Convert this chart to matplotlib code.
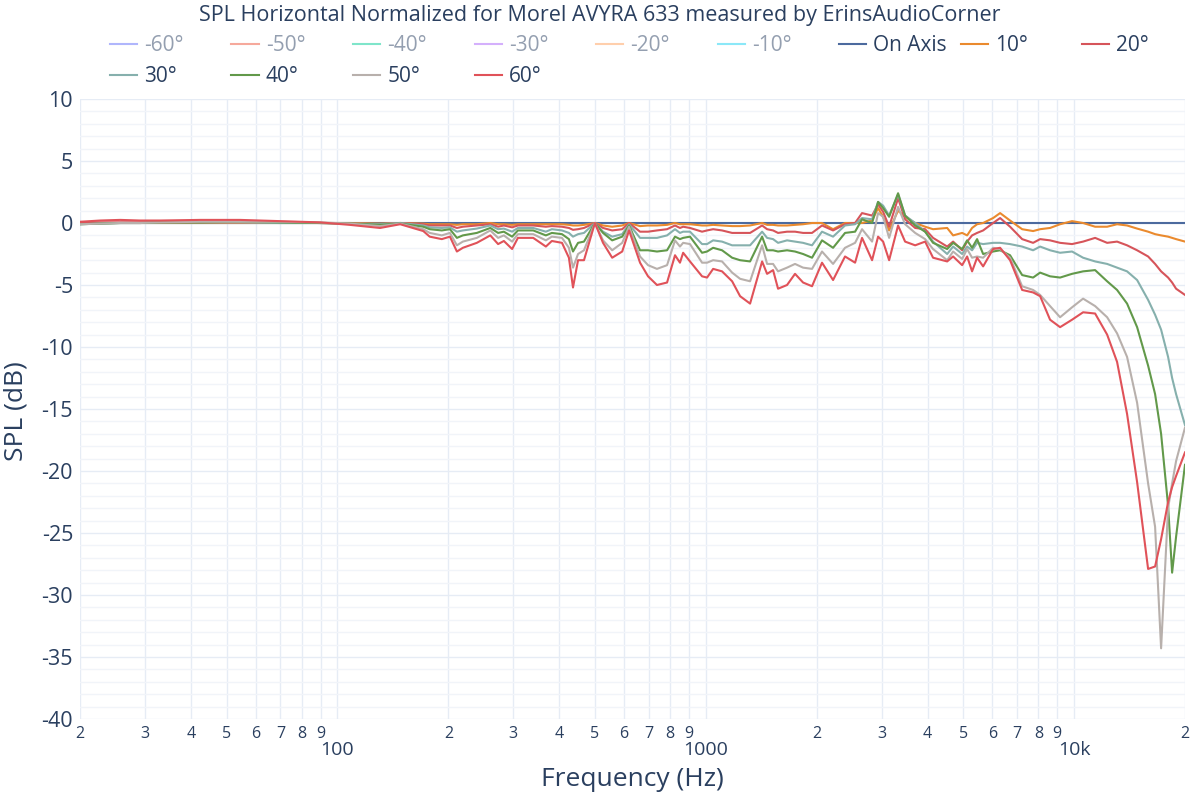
import matplotlib
matplotlib.use("Agg")
import matplotlib.pyplot as plt
from matplotlib.lines import Line2D
from matplotlib.ticker import FixedLocator, MultipleLocator

plt.rcParams['font.family'] = ['Open Sans', 'DejaVu Sans']
plt.rcParams['axes.unicode_minus'] = False

TITLE = "SPL Horizontal Normalized for Morel AVYRA 633 measured by ErinsAudioCorner"

FREQ = [20, 22.7, 25.7, 29.1, 33.0, 42.4, 54.4, 69.8, 89.7, 108,
        130.5, 148, 171, 178, 192, 202, 211, 219, 239, 260,
        273, 283, 298, 309, 340, 368, 382, 407, 425, 436,
        450, 467, 500, 526, 557, 593, 619, 663, 697, 737,
        785, 825, 851, 868, 906, 977, 1008, 1047, 1107, 1179,
        1239, 1319, 1422, 1467, 1523, 1571, 1662, 1747, 1837, 1943,
        2068, 2216, 2388, 2543, 2656, 2828, 2936, 3030, 3146, 3327,
        3476, 3702, 3940, 4140, 4522, 4693, 4966, 5123, 5284, 5452,
        5662, 6026, 6296, 6700, 7226, 7738, 8085, 8604, 9160, 9871,
        10577, 11403, 12292, 13080, 13924, 14826, 15880, 16590, 17224, 17994,
        18452, 18916, 20000]

ON_AXIS = [0.0] * 103

DEG10 = [0, 0, 0, 0, 0, 0, 0, 0, 0, 0,
         -0.05, 0.0, -0.05, -0.1, -0.1, -0.1, -0.15, -0.1, -0.1, 0.0,
         -0.1, -0.1, -0.15, -0.1, -0.1, -0.1, -0.1, -0.1, -0.15, -0.2,
         -0.2, -0.15, 0.0, -0.2, -0.3, -0.2, 0.0, -0.25, -0.2, -0.2,
         -0.15, 0.0, -0.1, -0.1, -0.1, -0.2, -0.2, -0.15, -0.2, -0.25,
         -0.25, -0.2, 0.0, -0.15, -0.15, -0.2, -0.2, -0.15, -0.1, 0.0,
         0.0, -0.5, 0.0, 0.0, 0.0, 0.2, 1.2, 0.5, -0.6, 1.0,
         0.5, 0.0, -0.3, -0.5, -0.4, -1.0, -0.8, -1.0, -0.4, -0.1,
         0.0, 0.4, 0.8, 0.2, -0.5, -0.65, -0.5, -0.4, -0.1, 0.15,
         0.0, -0.3, -0.3, -0.1, -0.2, -0.45, -0.7, -0.9, -1.0, -1.1,
         -1.2, -1.3, -1.5]

DEG20 = [0.05, 0.05, 0.05, 0.05, 0.05, 0.05, 0.05, 0.05, 0.0, -0.05,
         -0.1, 0.0, -0.1, -0.2, -0.2, -0.2, -0.4, -0.3, -0.2, -0.1,
         -0.3, -0.2, -0.35, -0.2, -0.2, -0.3, -0.25, -0.3, -0.4, -0.55,
         -0.5, -0.4, 0.0, -0.4, -0.6, -0.5, 0.0, -0.7, -0.7, -0.6,
         -0.5, -0.2, -0.4, -0.3, -0.4, -0.7, -0.6, -0.5, -0.6, -0.8,
         -0.8, -0.8, -0.2, -0.5, -0.6, -0.8, -0.7, -0.7, -0.8, -0.8,
         -0.2, -0.6, -0.1, 0.0, 0.8, 0.6, 1.5, 0.9, -0.3, 2.0,
         0.3, -0.4, -0.5, -1.2, -1.9, -1.5, -2.2, -1.5, -1.0, -0.8,
         -0.6, 0.0, 0.4, -0.3, -1.3, -1.6, -1.3, -1.4, -1.6, -1.7,
         -1.5, -1.2, -1.6, -1.5, -1.8, -2.2, -2.7, -3.3, -3.9, -4.4,
         -4.8, -5.3, -5.8]

DEG30 = [-0.1, -0.05, 0.0, 0.0, 0.05, 0.05, 0.05, 0.0, 0.0, -0.05,
         -0.1, 0.0, -0.2, -0.35, -0.4, -0.35, -0.7, -0.6, -0.45, -0.2,
         -0.5, -0.45, -0.7, -0.4, -0.4, -0.7, -0.5, -0.6, -0.8, -1.1,
         -0.9, -0.8, 0.0, -0.7, -1.1, -0.9, -0.1, -1.2, -1.2, -1.2,
         -1.0, -0.5, -0.8, -0.7, -0.7, -1.7, -1.7, -1.4, -1.5, -1.8,
         -1.8, -1.8, -0.7, -1.2, -1.3, -1.6, -1.4, -1.5, -1.6, -1.8,
         -0.7, -1.1, -0.2, -0.1, 0.4, 0.3, 1.7, 1.4, 0.6, 2.3,
         0.6, 0.0, -0.7, -1.5, -2.5, -1.9, -2.5, -1.9, -2.2, -1.6,
         -1.7, -1.6, -1.6, -1.7, -1.9, -2.2, -1.9, -2.2, -2.4, -2.3,
         -2.8, -3.1, -3.3, -3.6, -3.9, -4.6, -6.2, -7.4, -8.6, -10.8,
         -12.5, -13.8, -16.3]

DEG40 = [-0.1, -0.05, 0.0, 0.0, 0.05, 0.05, 0.1, 0.05, 0.0, -0.05,
         -0.15, -0.05, -0.3, -0.5, -0.6, -0.5, -1.2, -1.0, -0.8, -0.4,
         -0.8, -0.7, -1.1, -0.6, -0.6, -1.0, -0.8, -0.9, -1.3, -2.3,
         -1.6, -1.5, 0.0, -0.8, -1.4, -1.1, -0.2, -2.2, -2.2, -2.3,
         -2.2, -1.1, -1.3, -1.2, -1.1, -2.4, -2.3, -2.0, -2.2, -2.8,
         -3.0, -3.1, -1.1, -2.2, -2.2, -2.3, -2.2, -2.3, -2.5, -2.8,
         -1.4, -2.0, -0.8, -0.7, 0.3, 0.0, 1.7, 1.2, 0.5, 2.4,
         0.6, -0.2, -0.7, -1.6, -2.1, -1.6, -2.1, -1.4, -2.0, -1.3,
         -2.5, -2.3, -2.2, -2.6, -4.2, -4.4, -4.0, -4.3, -4.4, -4.1,
         -3.9, -3.8, -4.7, -5.4, -6.5, -8.4, -11.5, -13.8, -17.0, -22.8,
         -28.2, -25.3, -19.5]

DEG50 = [-0.1, -0.05, 0.0, 0.0, 0.05, 0.1, 0.1, 0.1, 0.05, -0.05,
         -0.25, -0.05, -0.5, -0.8, -1.0, -0.8, -1.8, -1.5, -1.2, -0.6,
         -1.2, -1.0, -1.5, -0.9, -0.9, -1.4, -1.1, -1.2, -2.0, -3.6,
         -2.5, -2.2, 0.0, -1.4, -2.2, -1.6, -0.3, -2.7, -3.4, -3.7,
         -3.4, -1.4, -1.9, -1.6, -1.7, -3.2, -3.2, -3.0, -3.1, -4.0,
         -4.5, -4.7, -1.8, -3.3, -3.3, -3.9, -3.6, -3.3, -3.6, -3.7,
         -2.3, -3.3, -2.0, -1.6, -0.5, -1.5, 0.8, 0.5, -1.2, 1.3,
         -0.1, -0.8, -1.3, -2.1, -3.0, -2.3, -2.9, -2.1, -2.8, -2.7,
         -2.8, -2.0, -2.1, -2.8, -5.1, -5.4, -5.8, -6.7, -7.6, -6.8,
         -6.1, -6.7, -7.6, -8.9, -10.8, -14.5, -21.0, -24.5, -34.3, -23.0,
         -21.0, -19.2, -16.5]

DEG60 = [0.1, 0.2, 0.25, 0.2, 0.2, 0.25, 0.25, 0.15, 0.05, -0.15,
         -0.4, -0.1, -0.65, -1.1, -1.3, -1.1, -2.3, -2.0, -1.6, -1.0,
         -1.7, -1.45, -2.1, -1.2, -1.2, -1.9, -1.45, -1.6, -2.8, -5.2,
         -3.0, -3.0, 0.0, -1.6, -2.8, -2.3, -0.6, -3.2, -4.3, -5.0,
         -4.8, -2.6, -3.2, -2.4, -3.1, -4.3, -4.4, -3.7, -3.9, -4.7,
         -5.9, -6.5, -3.1, -4.1, -3.8, -5.3, -5.0, -4.1, -4.8, -5.1,
         -3.2, -4.6, -2.7, -3.2, -1.2, -3.0, -1.1, -1.5, -3.0, -0.2,
         -1.5, -1.8, -1.5, -2.8, -3.1, -2.7, -3.4, -2.7, -3.9, -2.8,
         -3.5, -2.1, -2.0, -3.0, -5.4, -5.6, -5.9, -7.8, -8.4, -7.8,
         -7.2, -7.3, -9.0, -11.2, -15.4, -20.9, -27.9, -27.7, -25.5, -22.5,
         -21.3, -20.4, -18.5]

VISIBLE_LABELS = ["On Axis", "10°", "20°", "30°", "40°", "50°", "60°"]
VISIBLE_DATA = [ON_AXIS, DEG10, DEG20, DEG30, DEG40, DEG50, DEG60]
VISIBLE_COLORS = ["#4c6a9e", "#ea8a2e", "#d6545a", "#86b0ad", "#62994a", "#b8b0ac", "#e05259"]
HIDDEN_LABELS = ["-60°", "-50°", "-40°", "-30°", "-20°", "-10°"]
HIDDEN_COLORS = ["#636efa", "#EF553B", "#00cc96", "#ab63fa", "#FFA15A", "#19d3f3"]

TEXT = "#2a3f5f"
W, H = 1200, 800
fig = plt.figure(figsize=(12, 8), dpi=100)
L, R, T, B = 80, 1185, 99, 719
ax = fig.add_axes([L / W, 1 - B / H, (R - L) / W, (B - T) / H])

handles = {}
for lab, dat, col in zip(VISIBLE_LABELS, VISIBLE_DATA, VISIBLE_COLORS):
    ln, = ax.plot(FREQ, dat, color=col, lw=1.5, label=lab)
    handles[lab] = ln
for lab, col in zip(HIDDEN_LABELS, HIDDEN_COLORS):
    handles[lab] = Line2D([], [], color=col, lw=1.5, alpha=0.5)

ax.set_xscale('log')
ax.set_xlim(20, 20000)
ax.set_ylim(-40, 10)
for s in ax.spines.values():
    s.set_visible(False)

major = [100, 1000, 10000]
minor = [m * d for d in (10, 100, 1000) for m in range(2, 10)] + [20000]
ax.xaxis.set_major_locator(FixedLocator(major))
ax.xaxis.set_minor_locator(FixedLocator(minor))
ax.set_xticklabels(["100", "1000", "10k"])
ax.set_xticklabels([str(m)[0] for m in minor], minor=True)
ax.tick_params(axis='x', which='major', length=0, pad=16, labelsize=14, labelcolor=TEXT)
ax.tick_params(axis='x', which='minor', length=0, pad=5, labelsize=11.5, labelcolor=TEXT)

ax.yaxis.set_major_locator(MultipleLocator(5))
ax.yaxis.set_minor_locator(MultipleLocator(1))
ax.tick_params(axis='y', which='both', length=0, pad=5, labelsize=15.5, labelcolor=TEXT)

ax.grid(True, which='major', axis='both', color='#e6ecf5', lw=1)
ax.grid(True, which='minor', axis='x', color='#e6ecf5', lw=1)
ax.grid(True, which='minor', axis='y', color='#f1f4f9', lw=1)
ax.set_axisbelow(True)

ax.set_xlabel("Frequency (Hz)", fontsize=19, color=TEXT)
ax.xaxis.set_label_coords(0.5, (B - 780) / (B - T))
ax.xaxis.label.set_va('center')
ax.set_ylabel("SPL (dB)", fontsize=19, color=TEXT)
ax.yaxis.set_label_coords((16 - L) / (R - L), (B - 411) / (B - T))
ax.yaxis.label.set_va('center')

fig.text(0.5, 1 - 15 / H, TITLE, ha='center', va='center', fontsize=15.5, color=TEXT)

# legend: fixed-width columns, two rows
row1 = HIDDEN_LABELS + ["On Axis", "10°", "20°"]
row2 = ["30°", "40°", "50°", "60°"]
for i, lab in enumerate(row1):
    labs = [lab] + ([row2[i]] if i < len(row2) else [])
    hs = [handles[x] for x in labs]
    leg = fig.legend(hs, labs, loc='upper left',
                     bbox_to_anchor=((110 + i * 121.5) / W, 1 - 35 / H),
                     frameon=False, fontsize=15, borderpad=0, borderaxespad=0,
                     handlelength=1.3, handletextpad=0.35, labelspacing=0.5)
    for t, x in zip(leg.get_texts(), labs):
        t.set_color("#949fb0" if x in HIDDEN_LABELS else TEXT)

fig.savefig("out.png", dpi=100)
